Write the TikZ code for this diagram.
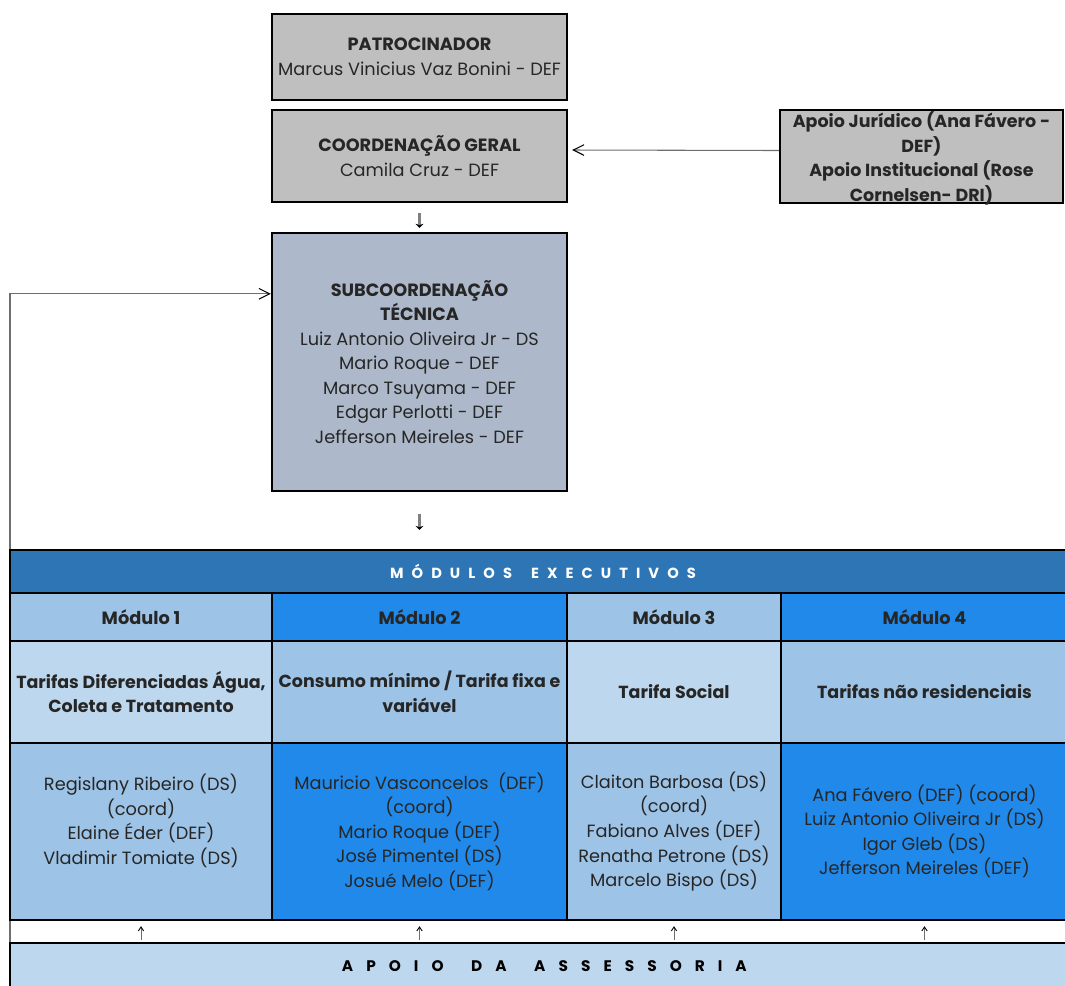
\documentclass[tikz,border=0pt]{standalone}
\usepackage{fontspec}
\setmainfont{Poppins}
\usepackage{tikz}
\usetikzlibrary{fit,positioning,calc,arrows.meta}

\definecolor{boxgray}{RGB}{191,191,191}
\definecolor{subblue}{RGB}{173,185,202}
\definecolor{headblue}{RGB}{46,117,182}
\definecolor{midblue}{RGB}{157,195,230}
\definecolor{paleblue}{RGB}{189,215,238}
\definecolor{brightblue}{RGB}{32,137,234}
\definecolor{nametext}{RGB}{38,38,38}
\definecolor{linegray}{RGB}{110,110,110}

\begin{document}
\begin{tikzpicture}[x=0.75pt,y=0.75pt,yscale=-1,xscale=1,
  box/.style={draw=black, line width=1.8pt, inner sep=0pt},
  cell/.style={draw=black, line width=2.2pt, inner sep=0pt},
  txt/.style={align=center, inner sep=0pt, text=nametext,
    font=\fontsize{13.3}{18.4}\selectfont},
  btxt/.style={txt, font=\fontsize{13.1}{18.4}\selectfont\bfseries},
  wide/.style={txt, font=\fontsize{11}{13}\selectfont\bfseries\addfontfeature{LetterSpace=55}},
  feed/.style={draw=linegray, line width=0.8pt, -{Straight Barb[length=8pt,width=8pt,color=black]}},
  down/.style={draw=gray, line width=2pt, -{Stealth[length=3pt,width=6pt,color=black]}},
  up/.style={draw=linegray, line width=0.7pt, -{Straight Barb[length=3pt,width=4pt,color=black]}}]
\useasboundingbox (0,0) rectangle (1065,986);

%Top boxes
\node[box, fill=boxgray, fit={(272,14) (567,100)}] (patro) {};
\node[box, fill=boxgray, fit={(272,110) (567,202)}] (coord) {};
\node[box, fill=boxgray, fit={(780,110) (1063,203)}] (apoio) {};
\node[box, fill=subblue, fit={(272,233) (567,491)}] (sub) {};

\node[txt] (patro-t) at (patro) {\textbf{PATROCINADOR}\\Marcus Vinicius Vaz Bonini - DEF};
\node[txt] (coord-t) at (coord) {\textbf{COORDENAÇÃO GERAL}\\Camila Cruz - DEF};
\node[btxt] (apoio-t) at ([yshift=1.5pt]apoio.center) {Apoio Jurídico (Ana Fávero -\\DEF)\\Apoio Institucional (Rose\\Cornelsen- DRI)};
\node[txt] (sub-t) at (sub) {\textbf{SUBCOORDENAÇÃO}\\\textbf{TÉCNICA}\\Luiz Antonio Oliveira Jr - DS\\Mario Roque - DEF\\Marco Tsuyama - DEF\\Edgar Perlotti - DEF\\Jefferson Meireles - DEF};

%Feedback line
\coordinate (fb) at (10,962);
\draw[feed] (fb) |- ($(sub.north west)+(0,62)$);

%Table
\node[cell, fill=headblue, fit={(10,550) (1068,593)}] (modhead) {};
\node[cell, fill=midblue, fit={(10,593) (272,641)}] (m1) {};
\node[cell, fill=brightblue, fit={(272,593) (567,641)}] (m2) {};
\node[cell, fill=midblue, fit={(567,593) (781,641)}] (m3) {};
\node[cell, fill=brightblue, fit={(781,593) (1068,641)}] (m4) {};
\node[cell, fill=paleblue, fit={(10,641) (272,743)}] (t1) {};
\node[cell, fill=midblue, fit={(272,641) (567,743)}] (t2) {};
\node[cell, fill=paleblue, fit={(567,641) (781,743)}] (t3) {};
\node[cell, fill=midblue, fit={(781,641) (1068,743)}] (t4) {};
\node[cell, fill=midblue, fit={(10,743) (272,920)}] (p1) {};
\node[cell, fill=brightblue, fit={(272,743) (567,920)}] (p2) {};
\node[cell, fill=midblue, fit={(567,743) (781,920)}] (p3) {};
\node[cell, fill=brightblue, fit={(781,743) (1068,920)}] (p4) {};
\node[cell, fill=paleblue, fit={(10,943) (1068,992)}] (assess) {};

\node[wide, text=white] (modhead-t) at ([xshift=3pt]modhead.center) {MÓDULOS\hspace{1.3em}EXECUTIVOS};
\foreach \i in {1,...,4}
  \node[txt] (m\i-t) at (m\i) {\textbf{Módulo \i}};
\node[btxt] (t1-t) at (t1) {Tarifas Diferenciadas Água,\\Coleta e Tratamento};
\node[btxt] (t2-t) at (t2) {Consumo mínimo / Tarifa fixa e\\variável};
\node[btxt] (t3-t) at (t3) {Tarifa Social};
\node[btxt] (t4-t) at (t4) {Tarifas não residenciais};
\node[txt] (p1-t) at (p1) {Regislany Ribeiro (DS)\\(coord)\\Elaine Éder (DEF)\\Vladimir Tomiate (DS)\\~};
\node[txt] (p2-t) at (p2) {Mauricio Vasconcelos\ \ (DEF)\\(coord)\\Mario Roque (DEF)\\José Pimentel (DS)\\Josué Melo (DEF)};
\node[txt] (p3-t) at (p3) {Claiton Barbosa (DS)\\(coord)\\Fabiano Alves (DEF)\\Renatha Petrone (DS)\\Marcelo Bispo (DS)};
\node[txt] (p4-t) at (p4) {Ana Fávero (DEF) (coord)\\Luiz Antonio Oliveira Jr (DS)\\Igor Gleb (DS)\\Jefferson Meireles (DEF)};
\node[wide, text=black, font=\fontsize{11.5}{13}\selectfont\bfseries\addfontfeature{LetterSpace=85}]
  (assess-t) at ([xshift=4pt,yshift=-1pt]assess.center) {APOIO\hspace{1.8em}DA\hspace{1.8em}ASSESSORIA};

%Arrows
\draw[feed, shorten >=3pt] ([yshift=-4.5pt]apoio.west) -- ([yshift=-4.5pt]coord.east);
\draw[down, shorten <=7.5pt, shorten >=3pt] (coord) -- (sub);
\draw[down, shorten <=16.5pt, shorten >=14pt] (sub.south) -- (sub.south |- modhead.north);
\foreach \p in {p1,p2,p3,p4}
  \draw[up, shorten <=1.5pt, shorten >=3.5pt] (\p.south |- assess.north) -- (\p.south);

\end{tikzpicture}
\end{document}
